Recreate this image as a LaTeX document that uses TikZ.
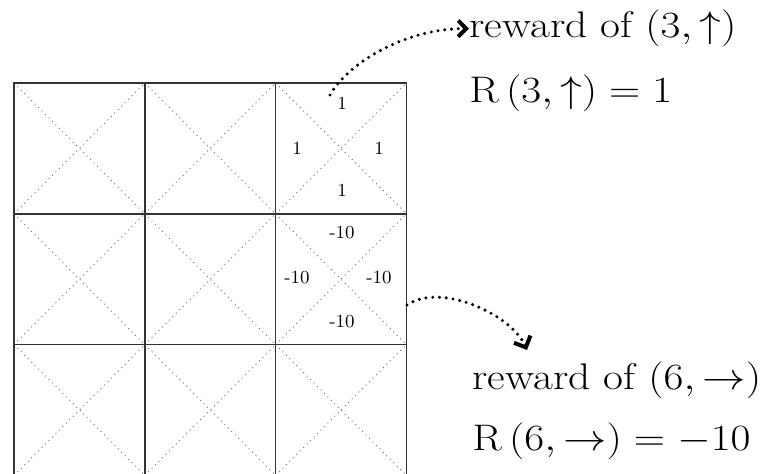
\documentclass[tikz,border=0pt]{standalone}
\usepackage{fix-cm}
\usepackage{graphicx}
\usetikzlibrary{arrows.meta}
\newcommand{\wide}[1]{\scalebox{1.17}[1]{#1}}
\begin{document}
\begin{tikzpicture}[x=0.5pt,y=-0.5pt,
  gridline/.style={draw=black!80,line width=0.8pt},
  diagline/.style={draw=black!60,line width=0.45pt,dotted},
  numlab/.style={inner sep=0pt,font=\fontsize{9.2}{11}\selectfont},
  biglab/.style={inner sep=0pt,anchor=base west,font=\fontsize{18.5}{22}\selectfont},
  callout/.style={line width=1.7pt,dash pattern=on 0pt off 3.4pt,line cap=round}]
\useasboundingbox (0,0) rectangle (774,474);
\begin{scope}
\clip (0,0) rectangle (774,474);
\foreach \i in {0,1,2}{
  \foreach \j in {0,1,2}{
    \pgfmathsetmacro{\xa}{14+130.8*\i}
    \pgfmathsetmacro{\ya}{83+130.8*\j}
    \pgfmathsetmacro{\xb}{14+130.8*(\i+1)}
    \pgfmathsetmacro{\yb}{83+130.8*(\j+1)}
    \draw[diagline] (\xa,\ya) -- (\xb,\yb);
    \draw[diagline] (\xa,\yb) -- (\xb,\ya);
    \draw[gridline] (\xa,\ya) rectangle (\xb,\yb);
  }
}
\end{scope}
% cell 3 rewards
\node[numlab] (u3) at (342,103) {1};
\node[numlab] (l3) at (297,148) {1};
\node[numlab] (r3) at (379,148) {1};
\node[numlab] (d3) at (342,190) {1};
% cell 6 rewards
\node[numlab] (u6) at (342,233) {-10};
\node[numlab] (l6) at (297,278) {-10};
\node[numlab] (r6) at (379,278) {-10};
\node[numlab] (d6) at (342,322) {-10};
% texts
\node[biglab] (t1) at (469,38) {\wide{reward of $(3,\uparrow)$}};
\node[biglab] (m1) at (469,103) {\wide{$\mathrm{R}\left(3,\uparrow\right)=1$}};
\node[biglab] (t2) at (472,390) {\wide{reward of $(6,\rightarrow)$}};
\node[biglab] (m2) at (472,451) {\wide{$\mathrm{R}\left(6,\rightarrow\right)=-10$}};
% callouts
\coordinate (s1) at (330,95);
\coordinate (s2) at (407,305);
\coordinate (e2) at (527,350);
\draw[callout,-{Straight Barb[length=4pt,width=8pt,line width=2pt]}]
  (s1) .. controls (350,60) and (410,28) .. (t1.west);
\draw[callout,-{Straight Barb[length=4.5pt,width=9pt,line width=2pt]}]
  (s2) .. controls (440,282) and (511,314) .. (e2);
\end{tikzpicture}
\end{document}
